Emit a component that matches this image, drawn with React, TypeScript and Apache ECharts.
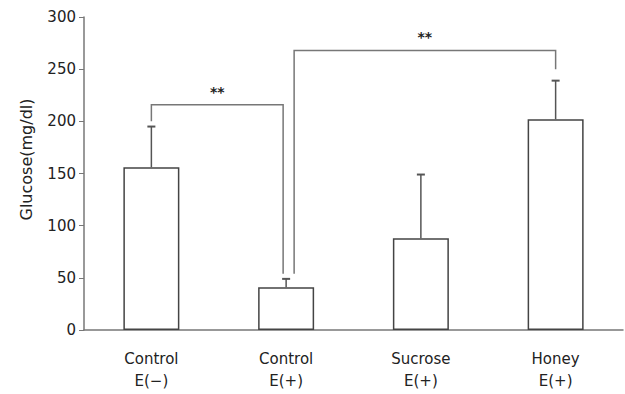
import React, { useEffect, useRef } from "react";
import * as echarts from "echarts";

const categories = ["Control\nE(−)", "Control\nE(+)", "Sucrose\nE(+)", "Honey\nE(+)"];
const means = [156, 41, 88, 202];
const errorTops = [195, 49, 149, 239];
const yTicks = [0, 50, 100, 150, 200, 250, 300];
// [fromIndex, toIndex, bracketTop, leftLegBottom, rightLegBottom, label]
const brackets: [number, number, number, number, number, string][] = [
  [0, 1, 216, 200, 54, "**"],
  [1, 3, 268, 54, 250, "**"],
];

export default function App() {
  const ref = useRef<HTMLDivElement>(null);
  useEffect(() => {
    const chart = echarts.init(ref.current!, null, { renderer: "svg" });
    const font = "DejaVu Sans, sans-serif";
    chart.setOption({
      animation: false,
      grid: { left: 84, right: 2, top: 17, bottom: 64 },
      xAxis: {
        type: "category",
        data: categories,
        axisLine: { lineStyle: { color: "#777", width: 1.5 } },
        axisTick: { show: false },
        axisLabel: {
          color: "#222",
          fontFamily: font,
          fontSize: 15,
          lineHeight: 22,
          margin: 18,
        },
      },
      yAxis: {
        type: "value",
        min: yTicks[0],
        max: yTicks[yTicks.length - 1],
        interval: 50,
        name: "Glucose(mg/dl)",
        nameLocation: "middle",
        nameGap: 50,
        nameTextStyle: { color: "#222", fontFamily: font, fontSize: 16, padding: [0, 0, 0, 28] },
        axisLine: { show: true, lineStyle: { color: "#777", width: 1.5 } },
        axisTick: { show: true, length: 5, lineStyle: { color: "#777" } },
        splitLine: { show: false },
        axisLabel: { color: "#222", fontFamily: font, fontSize: 15, margin: 8 },
      },
      series: [
        {
          type: "bar",
          data: means,
          barWidth: 56,
          itemStyle: { color: "#fff", borderColor: "#444", borderWidth: 1.5 },
          z: 2,
        },
        {
          type: "custom",
          data: errorTops.map((v, i) => [i, means[i], v]),
          z: 3,
          renderItem: (params: any, api: any) => {
            const base = api.coord([api.value(0), api.value(1)]);
            const top = api.coord([api.value(0), api.value(2)]);
            const style = { stroke: "#555", lineWidth: 1.5 };
            return {
              type: "group",
              children: [
                { type: "line", shape: { x1: base[0], y1: base[1], x2: top[0], y2: top[1] }, style },
                { type: "line", shape: { x1: top[0] - 4, y1: top[1], x2: top[0] + 4, y2: top[1] }, style: { stroke: "#555", lineWidth: 2 } },
              ],
            };
          },
        },
        {
          type: "custom",
          data: brackets,
          z: 4,
          renderItem: (params: any, api: any) => {
            const d = brackets[params.dataIndex];
            const offs = params.dataIndex === 0 ? [0, -3] : [8, 0];
            const l = api.coord([d[0], d[2]]);
            const r = api.coord([d[1], d[2]]);
            const lb = api.coord([d[0], d[3]]);
            const rb = api.coord([d[1], d[4]]);
            const lx = l[0] + offs[0];
            const rx = r[0] + offs[1];
            return {
              type: "group",
              children: [
                {
                  type: "polyline",
                  shape: { points: [[lx, lb[1]], [lx, l[1]], [rx, r[1]], [rx, rb[1]]] },
                  style: { stroke: "#777", lineWidth: 1.5, fill: "none" },
                },
                {
                  type: "text",
                  style: {
                    text: d[5],
                    x: (lx + rx) / 2,
                    y: l[1] - 6,
                    align: "center",
                    verticalAlign: "bottom",
                    fill: "#222",
                    font: "bold 14px DejaVu Sans, sans-serif",
                  },
                },
              ],
            };
          },
        },
      ],
    });
    return () => chart.dispose();
  }, []);
  return <div ref={ref} style={{ width: 625, height: 394, position: "absolute", left: 0, top: 0 }} />;
}
